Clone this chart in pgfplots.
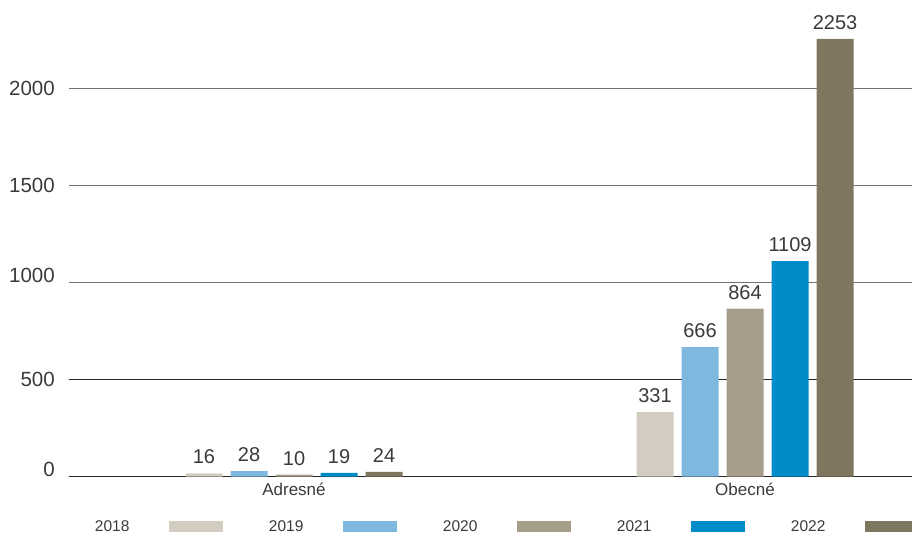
\documentclass[border=0pt]{standalone}
\usepackage{fontspec}
\setmainfont{Liberation Sans}
\usepackage{pgfplots}
\pgfplotsset{compat=1.18}
\definecolor{cA}{HTML}{D3CCC0}
\definecolor{cB}{HTML}{7FB8DF}
\definecolor{cC}{HTML}{A69E8A}
\definecolor{cD}{HTML}{008CC8}
\definecolor{cE}{HTML}{7F7660}
\definecolor{txt}{HTML}{3A3A3A}
\begin{document}
\begin{tikzpicture}
\begin{axis}[
  scale only axis, width=843pt, height=476.5pt,
  xmin=-0.4989, xmax=1.3703, ymin=0, ymax=2453,
  ybar=8pt, bar width=37pt,
  axis lines*=left,
  y axis line style={draw=none},
  x axis line style={-, draw=black!85, line width=1.1pt},
  xtick={0,1}, xticklabels={Adresné,Obecné},
  ytick={0,1000,1500,2000},
  yticklabels={0,1000,\raisebox{-7.5pt}{1500},\raisebox{-7.5pt}{2000}},
  extra y ticks={500},
  extra y tick labels={\raisebox{-7.5pt}{500}},
  extra y tick style={grid style={draw=black!85, line width=0.8pt}},
  major tick length=0pt,
  ymajorgrids, grid style={draw=black!55, line width=0.8pt},
  /pgf/number format/assume math mode=true,
  /pgf/number format/1000 sep={},
  yticklabel style={anchor=base east, inner sep=0pt, xshift=-14pt, font=\fontsize{20.5}{24}\selectfont, text=txt},
  xticklabel style={anchor=north, inner sep=0pt, yshift=-6pt, font=\fontsize{17}{20}\selectfont, text=txt},
  nodes near coords,
  nodes near coords style={anchor=south, inner sep=0pt, yshift=9pt, font=\fontsize{20}{24}\selectfont, text=txt},
  legend style={at={(0,0)}, anchor=north west, xshift=26pt, yshift=-44pt, draw=none, fill=none, inner sep=0pt, outer sep=0pt, font=\fontsize{15.5}{18}\selectfont, text=txt, /tikz/column sep=0pt, nodes={inner sep=0pt}},
  legend columns=5, legend plot pos=right,
  legend image code/.code={\path[draw=none,fill=none] (0pt,0pt) rectangle (139.5pt,0.01pt); \fill[#1] (40pt,-5.5pt) rectangle (94pt,5.5pt);},
]
\addplot[fill=cA, draw=none] coordinates {(0,16) (1,331)};
\addplot[fill=cB, draw=none] coordinates {(0,28) (1,666)};
\addplot[fill=cC, draw=none] coordinates {(0,10) (1,864)};
\addplot[fill=cD, draw=none] coordinates {(0,19) (1,1109)};
\addplot[fill=cE, draw=none] coordinates {(0,24) (1,2253)};
\legend{2018,2019,2020,2021,2022}
\end{axis}
\pgfresetboundingbox
\path (current axis.south west) ++(-69pt,-58.5pt) rectangle (current axis.north east);
\end{tikzpicture}
\end{document}
